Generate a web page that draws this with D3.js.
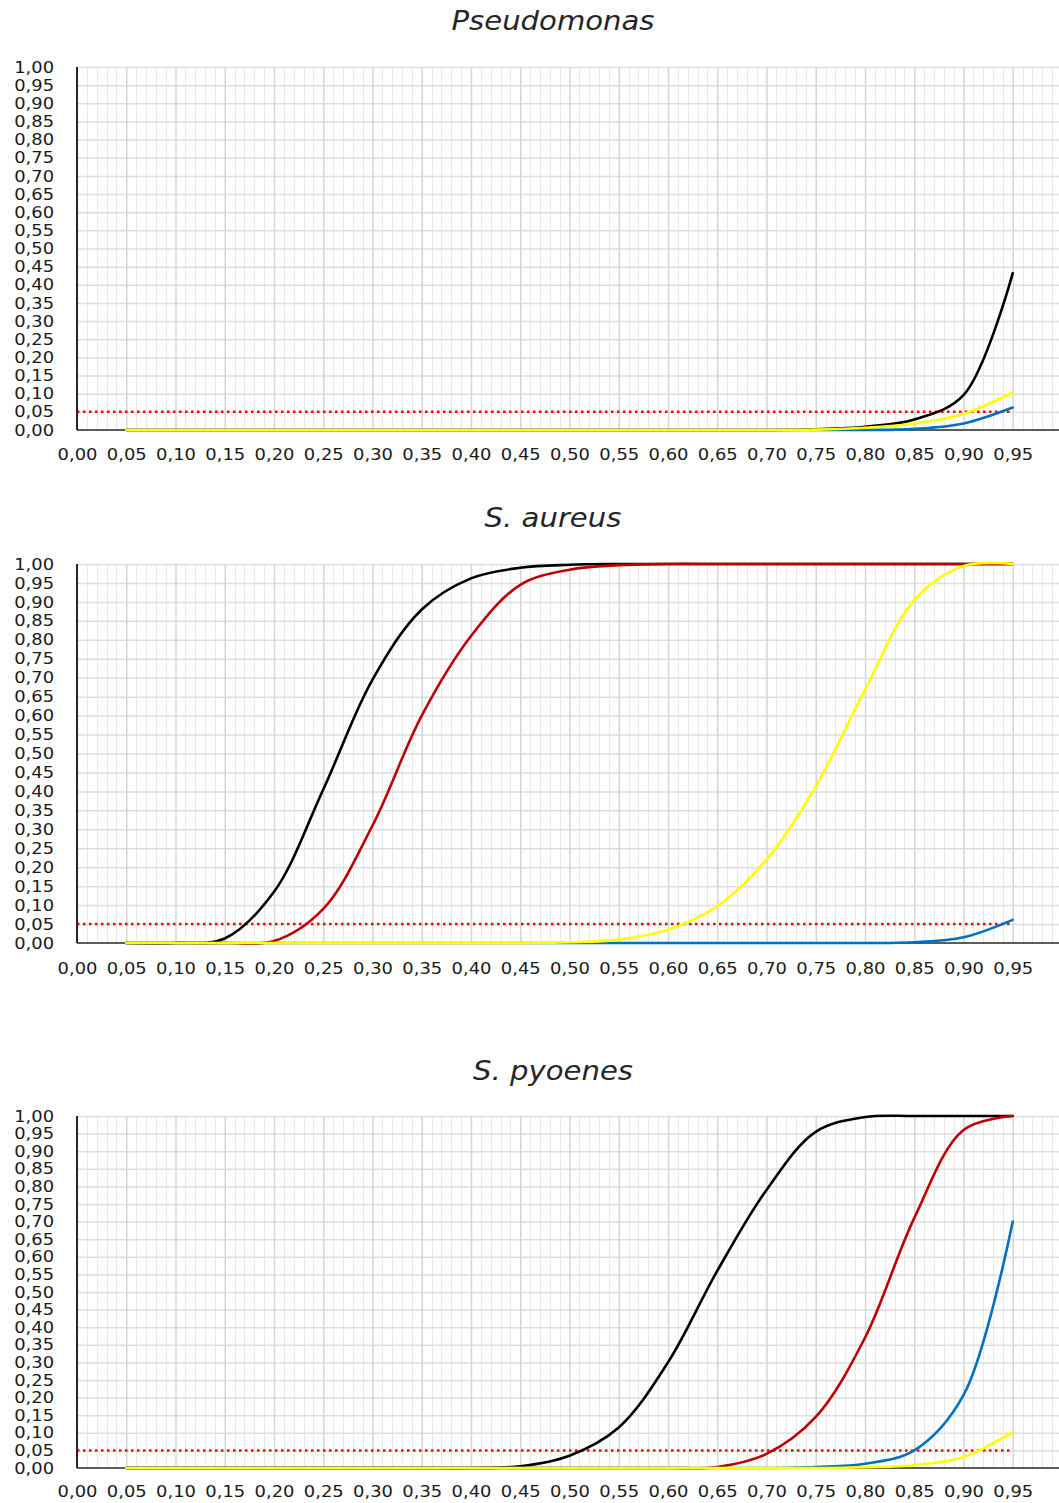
<!DOCTYPE html>
<html>
<head>
<meta charset="utf-8">
<script src="https://cdn.jsdelivr.net/npm/d3@7"></script>
<style>
  html, body { margin: 0; padding: 0; background: #fff; }
  svg { display: block; }
  text { font-family: "DejaVu Sans", Verdana, sans-serif; }
</style>
</head>
<body>
<svg id="chart" width="1059" height="1503"></svg>
<script>
// ---------- data ----------
const xCats = [0.05,0.10,0.15,0.20,0.25,0.30,0.35,0.40,0.45,0.50,0.55,0.60,0.65,0.70,0.75,0.80,0.85,0.90,0.95];
const xTickValues = [0.00,0.05,0.10,0.15,0.20,0.25,0.30,0.35,0.40,0.45,0.50,0.55,0.60,0.65,0.70,0.75,0.80,0.85,0.90,0.95];
const yTickValues = [0.00,0.05,0.10,0.15,0.20,0.25,0.30,0.35,0.40,0.45,0.50,0.55,0.60,0.65,0.70,0.75,0.80,0.85,0.90,0.95,1.00];
const threshold = 0.05;
const titles = ["Pseudomonas", "S. aureus", "S. pyoenes"];

const pseudoBlack  = [0,0,0,0,0,0,0,0,0,0,0,0,0,0,0.002,0.009,0.029,0.096,0.432];
const pseudoBlue   = [0,0,0,0,0,0,0,0,0,0,0,0,0,0,0,0,0.003,0.018,0.062];
const pseudoYellow = [0,0,0,0,0,0,0,0,0,0,0,0,0,0,0.001,0.006,0.018,0.044,0.104];

const aureusBlack  = [0,0,0.012,0.135,0.405,0.695,0.88,0.962,0.99,0.998,1,1,1,1,1,1,1,1,1];
const aureusRed    = [0,0,0,0.005,0.09,0.31,0.60,0.81,0.945,0.985,0.997,1,1,1,1,1,1,1,1];
const aureusBlue   = [0,0,0,0,0,0,0,0,0,0,0,0,0,0,0,0,0.002,0.015,0.061];
const aureusYellow = [0,0,0,0,0,0,0,0,0,0.002,0.009,0.035,0.097,0.22,0.413,0.668,0.905,0.995,1];

const pyoBlack  = [0,0,0,0,0,0,0,0,0.005,0.035,0.115,0.30,0.56,0.79,0.955,0.997,1,1,1];
const pyoRed    = [0,0,0,0,0,0,0,0,0,0,0,0,0.003,0.04,0.145,0.37,0.71,0.96,1.0];
const pyoBlue   = [0,0,0,0,0,0,0,0,0,0,0,0,0,0,0.003,0.012,0.05,0.207,0.70];
const pyoYellow = [0,0,0,0,0,0,0,0,0,0,0,0,0,0,0,0.002,0.008,0.031,0.102];

const seriesColors = { black: "#000000", red: "#c00000", blue: "#0070c0", yellow: "#ffff00" };

const panels = [
  { title: titles[0], series: [["black", pseudoBlack], ["blue", pseudoBlue], ["yellow", pseudoYellow]],
    top: 67, bottom: 430, titleY: 30, labelPad: 19 },
  { title: titles[1], series: [["black", aureusBlack], ["red", aureusRed], ["blue", aureusBlue], ["yellow", aureusYellow]],
    top: 564, bottom: 943, titleY: 527, labelPad: 20 },
  { title: titles[2], series: [["black", pyoBlack], ["red", pyoRed], ["blue", pyoBlue], ["yellow", pyoYellow]],
    top: 1116, bottom: 1468, titleY: 1080, labelPad: 18 }
];

// ---------- drawing ----------
const svg = d3.select("#chart");
const W = 1059;
const left = 77;
const fmt = v => d3.format(".2f")(v).replace(".", ",");
const SX = 1.12; // horizontal text stretch seen in the reference

const x = d3.scaleLinear().domain([0, 1]).range([left, left + 985]);

panels.forEach(p => {
  const g = svg.append("g");
  const y = d3.scaleLinear().domain([0, 1]).range([p.bottom, p.top]);
  const h = p.bottom - p.top;

  // minor vertical grid (every 0.01)
  const minor = d3.range(1, 101).map(i => i / 100).filter(v => Math.round(v * 100) % 5 !== 0);
  g.append("g")
    .attr("transform", `translate(0,${p.bottom})`)
    .call(d3.axisBottom(x).tickValues(minor).tickSize(-h).tickFormat(""))
    .call(s => s.select(".domain").remove())
    .call(s => s.selectAll("line").attr("stroke", "#e8e8e8").attr("stroke-width", 1).attr("shape-rendering", "crispEdges"));

  // horizontal grid
  g.append("g")
    .attr("transform", `translate(${left},0)`)
    .call(d3.axisLeft(y).tickValues(yTickValues.slice(1)).tickSize(-(W - left)).tickFormat(""))
    .call(s => s.select(".domain").remove())
    .call(s => s.selectAll("line").attr("stroke", "#dedede").attr("stroke-width", 1.5));

  // major vertical grid
  const major = d3.range(1, 21).map(i => i * 0.05);
  g.append("g")
    .attr("transform", `translate(0,${p.bottom})`)
    .call(d3.axisBottom(x).tickValues(major).tickSize(-h).tickFormat(""))
    .call(s => s.select(".domain").remove())
    .call(s => s.selectAll("line").attr("stroke", "#d6d6d6").attr("stroke-width", 1.5));

  // threshold dotted line
  g.append("path")
    .datum([0, 0.95])
    .attr("d", d3.line().x(d => x(d)).y(() => y(threshold)))
    .attr("fill", "none")
    .attr("stroke", "#ff0000")
    .attr("stroke-width", 2.5)
    .attr("stroke-dasharray", "2.5,3.5");

  // x axis line
  g.append("line")
    .attr("x1", left).attr("x2", W)
    .attr("y1", p.bottom).attr("y2", p.bottom)
    .attr("stroke", "#262626").attr("stroke-width", 1.6);

  // y axis line
  g.append("line")
    .attr("x1", left).attr("x2", left)
    .attr("y1", p.top).attr("y2", p.bottom)
    .attr("stroke", "#262626").attr("stroke-width", 2);

  // series (smoothed)
  const line = d3.line()
    .x((d, i) => x(xCats[i]))
    .y(d => y(d))
    .curve(d3.curveCatmullRom.alpha(0.5));
  p.series.forEach(([c, vals]) => {
    g.append("path")
      .datum(vals)
      .attr("d", line)
      .attr("fill", "none")
      .attr("stroke", seriesColors[c])
      .attr("stroke-width", 2.6)
      .attr("stroke-linejoin", "round")
      .attr("stroke-linecap", "round");
  });

  // y tick labels
  g.append("g")
    .attr("transform", `translate(${left},0)`)
    .call(d3.axisLeft(y).tickValues(yTickValues).tickSize(0).tickPadding(20.5).tickFormat(fmt))
    .call(s => s.select(".domain").remove())
    .call(s => s.selectAll("text")
      .attr("font-size", 16)
      .attr("fill", "#1a1a1a")
      .attr("font-family", "DejaVu Sans, sans-serif")
      .attr("transform", `scale(${SX},1)`));

  // x tick labels
  g.append("g")
    .attr("transform", `translate(0,${p.bottom})`)
    .call(d3.axisBottom(x).tickValues(xTickValues).tickSize(0).tickPadding(p.labelPad).tickFormat(fmt))
    .call(s => s.select(".domain").remove())
    .call(s => s.selectAll(".tick").each(function () {
      const t = d3.select(this);
      const tr = t.attr("transform");
      const m = /translate\(([^,]+),([^)]+)\)/.exec(tr);
      t.attr("transform", `translate(${m[1]},${m[2]}) scale(${SX},1)`);
    }))
    .call(s => s.selectAll("text")
      .attr("font-size", 16)
      .attr("fill", "#1a1a1a")
      .attr("font-family", "DejaVu Sans, sans-serif"));

  // title
  g.append("text")
    .attr("transform", `translate(553,${p.titleY}) scale(${SX},1)`)
    .attr("text-anchor", "middle")
    .attr("font-size", 26)
    .attr("font-style", "italic")
    .attr("fill", "#262626")
    .text(p.title);
});
</script>
</body>
</html>
